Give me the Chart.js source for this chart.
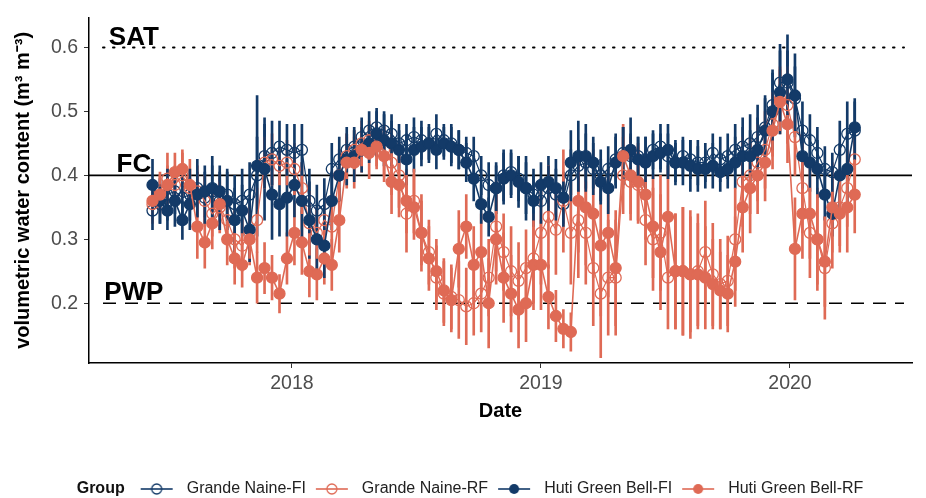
<!DOCTYPE html>
<html>
<head>
<meta charset="utf-8">
<script src="https://cdn.jsdelivr.net/npm/chart.js@4.4.1/dist/chart.umd.min.js"></script>
<style>
  html, body { margin: 0; padding: 0; background: #fff; }
</style>
</head>
<body>
<canvas id="chart" width="926" height="498"></canvas>
<script>
// sampling dates (decimal year)
const dates = [
  2017.44,2017.47,2017.50,2017.53,2017.56,2017.59,2017.62,2017.65,2017.68,2017.71,
  2017.74,2017.77,2017.80,2017.83,2017.86,2017.89,2017.92,2017.95,2017.98,2018.01,
  2018.04,2018.07,2018.10,2018.13,2018.16,2018.19,2018.22,2018.25,2018.28,2018.31,
  2018.34,2018.37,2018.40,2018.43,2018.46,2018.49,2018.52,2018.55,2018.58,2018.61,
  2018.64,2018.67,2018.70,2018.73,2018.76,2018.79,2018.82,2018.85,2018.88,2018.91,
  2018.94,2018.97,2019.00,2019.03,2019.06,2019.09,2019.12,2019.15,2019.18,2019.21,
  2019.24,2019.27,2019.30,2019.33,2019.36,2019.39,2019.42,2019.45,2019.48,2019.51,
  2019.54,2019.57,2019.60,2019.63,2019.66,2019.69,2019.72,2019.75,2019.78,2019.81,
  2019.84,2019.87,2019.90,2019.93,2019.96,2019.99,2020.02,2020.05,2020.08,2020.11,
  2020.14,2020.17,2020.20,2020.23,2020.26
];

// Grande Naine-FI
const gnFI = [
  0.345,0.355,0.37,0.375,0.365,0.37,0.38,0.365,0.375,0.36,
  0.37,0.355,0.36,0.37,0.40,0.43,0.435,0.445,0.44,0.435,
  0.44,0.36,0.345,0.355,0.41,0.425,0.44,0.445,0.46,0.47,
  0.475,0.47,0.465,0.45,0.455,0.46,0.455,0.45,0.465,0.455,
  0.45,0.44,0.435,0.43,0.40,0.385,0.38,0.40,0.405,0.395,
  0.38,0.37,0.36,0.38,0.37,0.355,0.40,0.415,0.42,0.41,
  0.40,0.41,0.425,0.435,0.43,0.43,0.425,0.44,0.445,0.43,
  0.42,0.43,0.425,0.42,0.42,0.435,0.425,0.43,0.44,0.445,
  0.45,0.46,0.475,0.51,0.545,0.545,0.52,0.47,0.455,0.435,
  0.41,0.405,0.44,0.465,0.47
];
const gnFIsd = [
  0.03,0.03,0.04,0.035,0.04,0.04,0.045,0.04,0.04,0.045,
  0.04,0.045,0.05,0.05,0.06,0.05,0.05,0.04,0.04,0.045,
  0.04,0.05,0.04,0.04,0.04,0.035,0.035,0.03,0.03,0.03,
  0.03,0.03,0.03,0.03,0.025,0.03,0.03,0.025,0.03,0.025,
  0.03,0.03,0.025,0.03,0.03,0.035,0.035,0.04,0.035,0.035,
  0.04,0.04,0.035,0.035,0.04,0.035,0.04,0.04,0.045,0.04,
  0.04,0.035,0.04,0.04,0.035,0.03,0.035,0.03,0.035,0.035,
  0.03,0.03,0.03,0.035,0.03,0.03,0.035,0.035,0.04,0.045,
  0.045,0.05,0.05,0.055,0.06,0.05,0.05,0.045,0.04,0.04,
  0.035,0.03,0.045,0.05,0.045
];

// Grande Naine-RF
const gnRF = [
  0.355,0.375,0.395,0.385,0.40,0.38,0.375,0.36,0.34,0.35,
  0.33,0.30,0.29,0.31,0.33,0.42,0.425,0.415,0.42,0.41,
  0.38,0.325,0.31,0.33,0.32,0.40,0.43,0.44,0.45,0.455,
  0.45,0.44,0.42,0.40,0.34,0.36,0.31,0.28,0.24,0.215,
  0.21,0.205,0.195,0.20,0.215,0.24,0.32,0.28,0.25,0.235,
  0.255,0.27,0.31,0.335,0.315,0.36,0.31,0.33,0.31,0.255,
  0.215,0.24,0.24,0.40,0.39,0.385,0.33,0.30,0.31,0.24,
  0.25,0.25,0.245,0.25,0.28,0.245,0.23,0.235,0.30,0.39,
  0.40,0.42,0.44,0.48,0.52,0.51,0.46,0.38,0.31,0.30,
  0.255,0.325,0.35,0.38,0.425
];
const gnRFsd = [
  0.03,0.03,0.04,0.03,0.035,0.03,0.04,0.04,0.035,0.04,
  0.04,0.045,0.04,0.04,0.05,0.04,0.04,0.03,0.035,0.04,
  0.04,0.05,0.04,0.04,0.05,0.04,0.035,0.03,0.035,0.03,
  0.035,0.04,0.05,0.05,0.06,0.05,0.05,0.05,0.05,0.05,
  0.05,0.06,0.06,0.05,0.06,0.06,0.07,0.06,0.07,0.06,
  0.06,0.07,0.08,0.08,0.07,0.08,0.08,0.09,0.08,0.09,
  0.10,0.09,0.09,0.06,0.06,0.06,0.07,0.08,0.09,0.08,
  0.09,0.10,0.10,0.09,0.08,0.08,0.07,0.07,0.08,0.07,
  0.06,0.06,0.06,0.05,0.05,0.06,0.06,0.07,0.07,0.07,
  0.08,0.07,0.06,0.06,0.05
];

// Huti Green Bell-FI
const hgbFI = [
  0.385,0.36,0.345,0.36,0.33,0.355,0.37,0.375,0.38,0.375,
  0.36,0.33,0.345,0.315,0.415,0.41,0.37,0.355,0.365,0.385,
  0.36,0.33,0.30,0.29,0.36,0.40,0.425,0.43,0.44,0.45,
  0.465,0.455,0.45,0.44,0.425,0.44,0.445,0.45,0.44,0.45,
  0.445,0.44,0.42,0.395,0.355,0.335,0.38,0.395,0.40,0.39,
  0.38,0.36,0.385,0.39,0.38,0.365,0.42,0.43,0.43,0.42,
  0.39,0.38,0.42,0.43,0.44,0.425,0.42,0.43,0.435,0.44,
  0.42,0.42,0.415,0.41,0.41,0.415,0.405,0.41,0.42,0.43,
  0.43,0.44,0.47,0.50,0.53,0.55,0.525,0.43,0.42,0.41,
  0.37,0.34,0.40,0.41,0.475
];
const hgbFIsd = [
  0.04,0.035,0.03,0.04,0.03,0.04,0.035,0.04,0.05,0.04,
  0.045,0.05,0.04,0.05,0.11,0.08,0.07,0.05,0.06,0.05,
  0.06,0.06,0.05,0.05,0.045,0.04,0.04,0.04,0.035,0.03,
  0.035,0.04,0.035,0.03,0.04,0.035,0.03,0.03,0.03,0.025,
  0.03,0.03,0.03,0.035,0.03,0.03,0.04,0.04,0.035,0.04,
  0.05,0.04,0.035,0.04,0.045,0.04,0.05,0.055,0.05,0.04,
  0.035,0.04,0.04,0.045,0.05,0.035,0.04,0.035,0.03,0.04,
  0.035,0.035,0.04,0.035,0.03,0.035,0.03,0.03,0.04,0.045,
  0.04,0.05,0.05,0.06,0.065,0.07,0.065,0.05,0.045,0.045,
  0.04,0.035,0.05,0.06,0.045
];

// Huti Green Bell-RF
const hgbRF = [
  0.36,0.37,0.385,0.405,0.41,0.385,0.32,0.295,0.325,0.355,
  0.30,0.27,0.26,0.30,0.24,0.255,0.24,0.215,0.27,0.31,
  0.295,0.25,0.245,0.27,0.26,0.33,0.42,0.42,0.44,0.435,
  0.445,0.43,0.39,0.385,0.36,0.35,0.31,0.27,0.25,0.22,
  0.205,0.285,0.32,0.26,0.28,0.20,0.30,0.24,0.215,0.19,
  0.20,0.26,0.26,0.21,0.18,0.16,0.155,0.36,0.35,0.34,
  0.29,0.31,0.255,0.43,0.40,0.39,0.37,0.32,0.28,0.335,
  0.25,0.25,0.245,0.245,0.24,0.23,0.22,0.215,0.265,0.35,
  0.38,0.40,0.42,0.47,0.515,0.48,0.285,0.34,0.34,0.30,
  0.265,0.35,0.34,0.35,0.37
];
const hgbRFsd = [
  0.03,0.03,0.03,0.03,0.03,0.04,0.05,0.04,0.04,0.04,
  0.04,0.04,0.035,0.04,0.04,0.04,0.035,0.03,0.04,0.05,
  0.05,0.04,0.04,0.04,0.04,0.05,0.04,0.04,0.035,0.04,
  0.035,0.04,0.05,0.05,0.05,0.05,0.06,0.05,0.05,0.05,
  0.05,0.06,0.05,0.06,0.06,0.07,0.07,0.07,0.06,0.06,
  0.06,0.07,0.07,0.05,0.04,0.03,0.03,0.08,0.09,0.10,
  0.11,0.10,0.09,0.05,0.06,0.06,0.07,0.08,0.09,0.08,
  0.09,0.10,0.09,0.08,0.08,0.07,0.06,0.06,0.07,0.07,
  0.07,0.06,0.06,0.06,0.05,0.06,0.08,0.07,0.07,0.08,
  0.07,0.07,0.06,0.07,0.06
];

// reference levels: saturation, field capacity, wilting point
const refNames = ['SAT', 'FC', 'PWP'];
const refLevels = [0.6, 0.4, 0.2];
const refLabelX = 2017.365;

const xTicks = [2018, 2019, 2020];
const yTicks = [0.2, 0.3, 0.4, 0.5, 0.6];

const BLUE = '#133a68';
const SALMON = '#df6a55';
const FONT = "'Liberation Sans', Arial, sans-serif";

const groups = [
  { label: 'Grande Naine-FI', vals: gnFI, sd: gnFIsd, color: BLUE, open: true },
  { label: 'Grande Naine-RF', vals: gnRF, sd: gnRFsd, color: SALMON, open: true },
  { label: 'Huti Green Bell-FI', vals: hgbFI, sd: hgbFIsd, color: BLUE, open: false },
  { label: 'Huti Green Bell-RF', vals: hgbRF, sd: hgbRFsd, color: SALMON, open: false }
];

// legend keys: line through a circle, with some side margin
function legendKey(color, open) {
  const c = document.createElement('canvas');
  c.width = 46; c.height = 16;
  const ctx = c.getContext('2d');
  ctx.strokeStyle = color;
  ctx.lineWidth = 1.6;
  ctx.beginPath(); ctx.moveTo(8, 8); ctx.lineTo(40, 8); ctx.stroke();
  ctx.beginPath(); ctx.arc(24, 8, 5, 0, Math.PI * 2);
  if (open) { ctx.lineWidth = 1.3; ctx.stroke(); }
  else { ctx.fillStyle = color; ctx.fill(); }
  return c;
}
const keys = groups.map(g => legendKey(g.color, g.open));

const lineSets = groups.map((g, k) => ({
  type: 'line',
  label: g.label,
  data: dates.map((t, i) => ({ x: t, y: g.vals[i] })),
  borderColor: g.color,
  borderWidth: g.open ? 1.2 : 1.6,
  pointRadius: 5.5,
  pointBorderWidth: 1.3,
  pointBorderColor: g.color,
  pointBackgroundColor: g.open ? 'rgba(255,255,255,0)' : g.color,
  fill: false,
  tension: 0,
  order: 3 - k
}));

const barSets = groups.map(g => ({
  type: 'bar',
  label: g.label + ' sd',
  data: dates.map((t, i) => ({ x: t, y: [g.vals[i] - g.sd[i], g.vals[i] + g.sd[i]] })),
  backgroundColor: g.color,
  barThickness: 2,
  grouped: false,
  order: 10
}));

const refLines = {
  id: 'refLines',
  beforeDatasetsDraw(chart) {
    const { ctx, chartArea, scales } = chart;
    const dashes = [[1.5, 8.5], [], [13, 9]];
    ctx.save();
    refLevels.forEach((v, i) => {
      const y = scales.y.getPixelForValue(v);
      ctx.strokeStyle = '#000';
      ctx.lineWidth = i === 0 ? 2 : 1.6;
      ctx.lineCap = i === 0 ? 'round' : 'butt';
      ctx.setLineDash(dashes[i]);
      ctx.beginPath();
      ctx.moveTo(chartArea.left + (i === 1 ? 0 : 14), y);
      ctx.lineTo(chartArea.right - (i === 1 ? 0 : 8), y);
      ctx.stroke();
    });
    ctx.restore();
  },
  afterDatasetsDraw(chart) {
    const { ctx, scales } = chart;
    ctx.save();
    ctx.fillStyle = '#000';
    ctx.font = 'bold 26px ' + FONT;
    ctx.textAlign = 'center';
    ctx.textBaseline = 'alphabetic';
    refLevels.forEach((v, i) => {
      ctx.fillText(refNames[i], scales.x.getPixelForValue(refLabelX), scales.y.getPixelForValue(v) - 3);
    });
    ctx.restore();
  }
};

const legendTitle = {
  id: 'legendTitle',
  afterLayout(chart) {
    const lg = chart.legend;
    lg.left += 42; lg.right += 42;
    lg.top += 9; lg.bottom += 9;
  },
  afterDraw(chart) {
    const box = chart.legend.legendHitBoxes[0];
    if (!box) return;
    const { ctx } = chart;
    ctx.save();
    ctx.fillStyle = '#111';
    ctx.font = 'bold 16px ' + FONT;
    ctx.textAlign = 'right';
    ctx.textBaseline = 'middle';
    ctx.fillText('Group', box.left - 8, box.top + box.height / 2);
    ctx.restore();
  }
};

new Chart(document.getElementById('chart'), {
  type: 'line',
  data: { datasets: [...lineSets, ...barSets] },
  options: {
    responsive: false,
    animation: false,
    devicePixelRatio: 1,
    layout: { padding: { top: 12, right: 14, bottom: 0, left: 0 } },
    plugins: {
      tooltip: { enabled: false },
      legend: {
        position: 'bottom',
        align: 'center',
        labels: {
          usePointStyle: true,
          pointStyleWidth: 46,
          padding: 2,
          color: '#222',
          font: { family: FONT, size: 16 },
          sort: (a, b) => a.datasetIndex - b.datasetIndex,
          generateLabels(chart) {
            return Chart.defaults.plugins.legend.labels.generateLabels(chart)
              .filter(it => it.datasetIndex < 4)
              .map(it => Object.assign(it, { pointStyle: keys[it.datasetIndex] }));
          }
        },
        onClick: null
      }
    },
    scales: {
      x: {
        type: 'linear',
        min: 2017.185,
        max: 2020.49,
        offset: false,
        afterBuildTicks(scale) { scale.ticks = xTicks.map(v => ({ value: v })); },
        afterFit(scale) { scale.height = 107; },
        ticks: { color: '#4d4d4d', font: { family: FONT, size: 19.5 }, padding: 4, callback: v => String(v) },
        grid: { drawOnChartArea: false, offset: false, tickLength: 5, color: '#333' },
        border: { color: '#000', width: 1.5 },
        title: { display: true, text: 'Date', color: '#000', font: { family: FONT, size: 20, weight: 'bold' }, padding: { top: 4, bottom: 47 } }
      },
      y: {
        min: 0.1065,
        max: 0.6467,
        afterBuildTicks(scale) { scale.ticks = yTicks.map(v => ({ value: v })); },
        afterFit(scale) { scale.width = 89; },
        ticks: { color: '#4d4d4d', font: { family: FONT, size: 19.5 }, padding: 6, callback: v => v.toFixed(1) },
        grid: { drawOnChartArea: false, tickLength: 5, color: '#333' },
        border: { color: '#000', width: 1.5 },
        title: { display: true, text: 'volumetric water content (m³ m⁻³)', color: '#000', font: { family: FONT, size: 20, weight: 'bold' }, padding: { top: 11, bottom: 4 } }
      }
    }
  },
  plugins: [refLines, legendTitle]
});
</script>
</body>
</html>
